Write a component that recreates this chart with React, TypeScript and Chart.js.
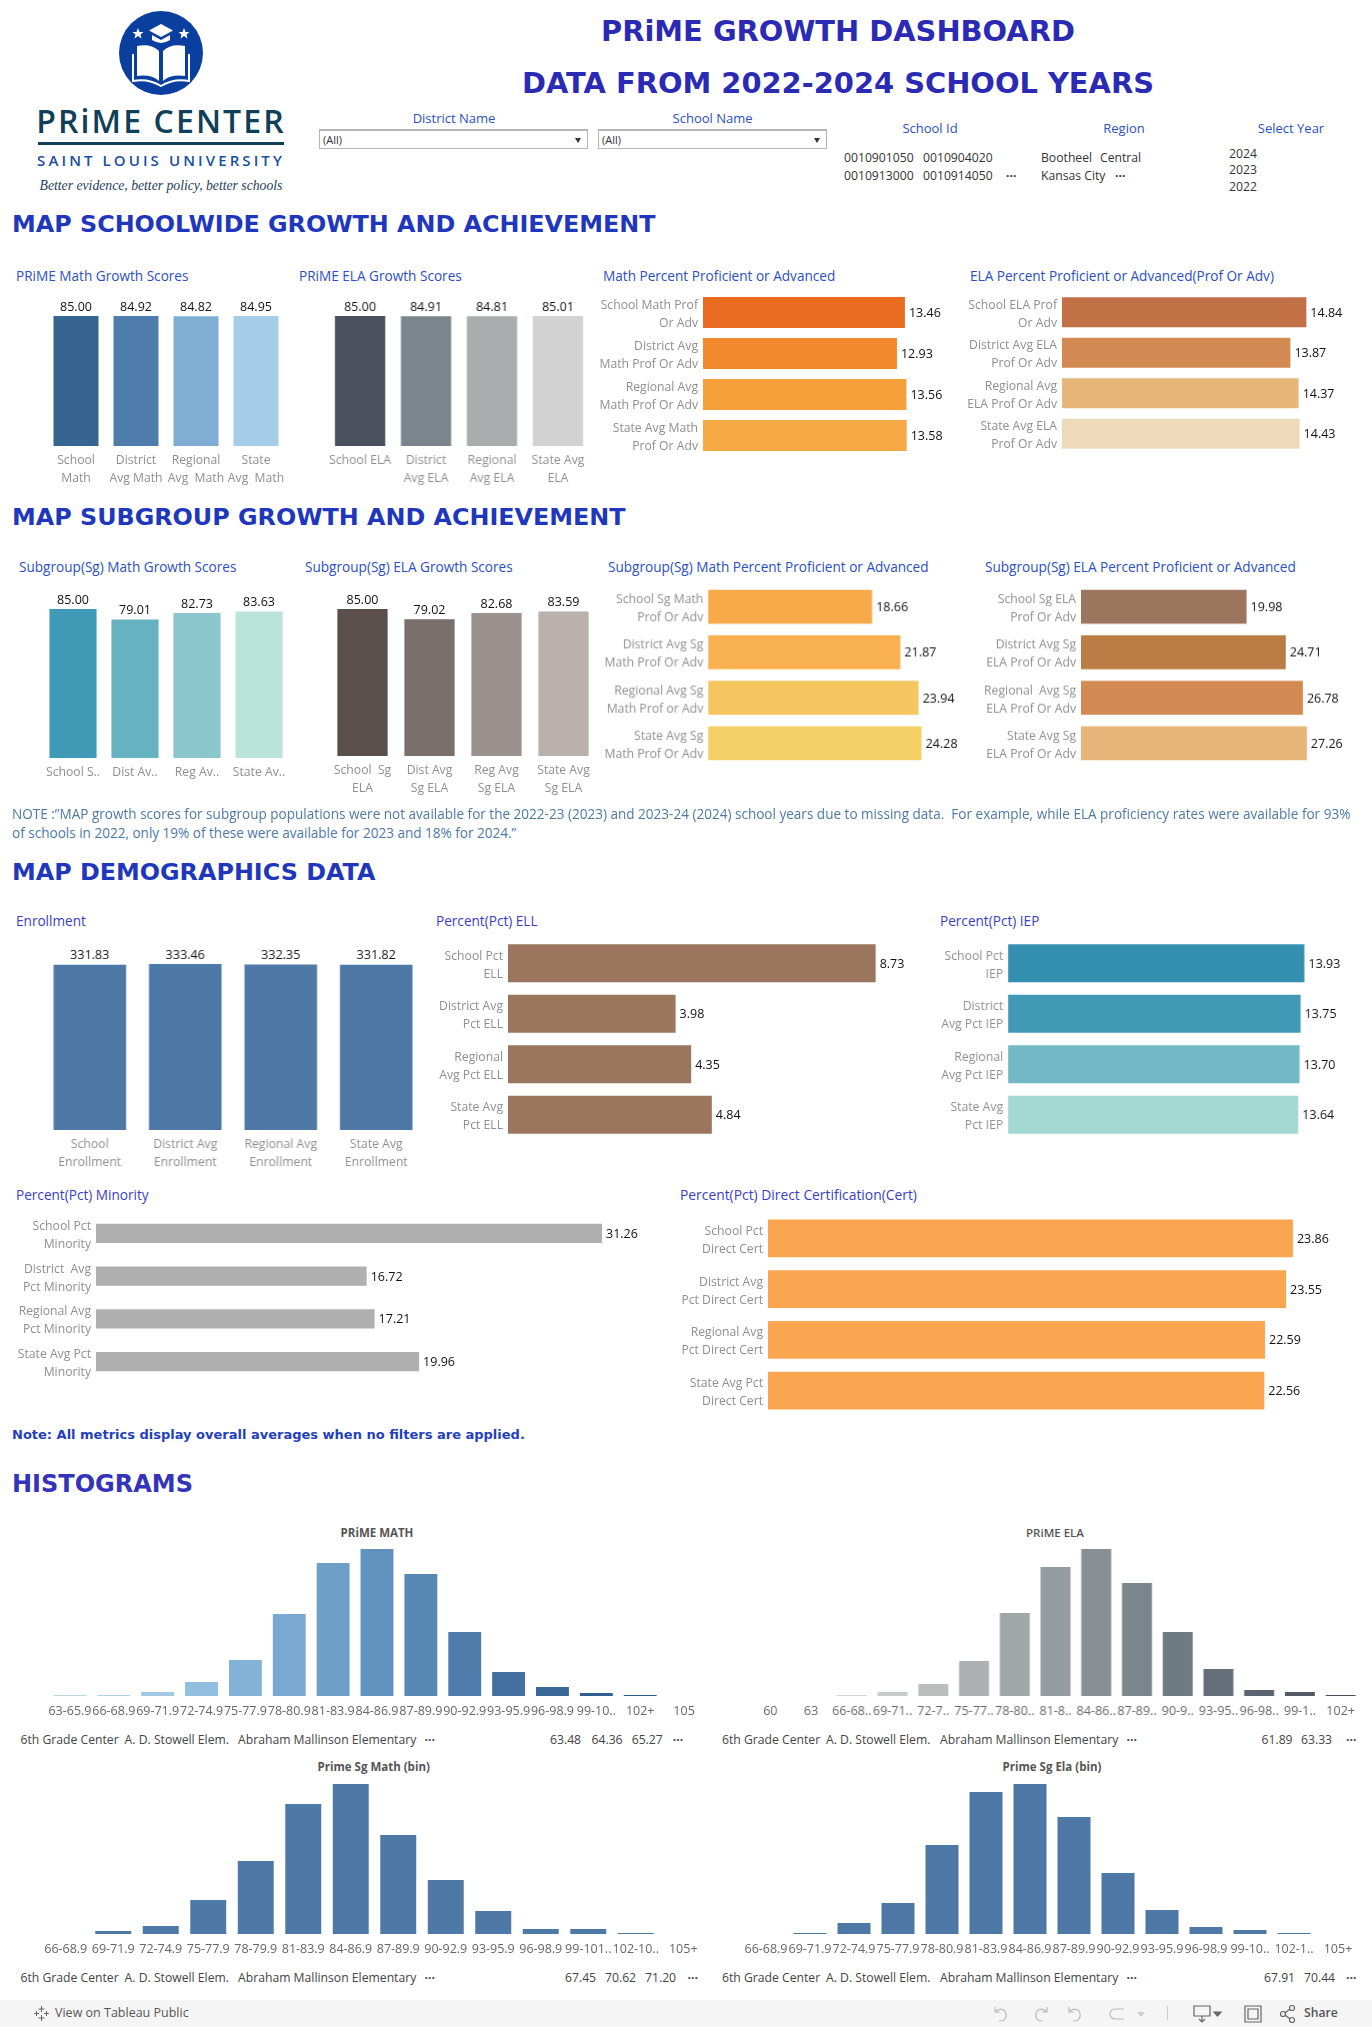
import React, { useEffect, useRef } from "react";
import { Chart, registerables } from "chart.js";

Chart.register(...registerables);

const FONT = '"Open Sans", sans-serif';
const HEAD = '"DejaVu Sans", sans-serif';

// ---- data ----
const mathGrowthLabels = [["School", "Math"], ["District", "Avg Math"], ["Regional", "Avg  Math"], ["State", "Avg  Math"]];
const mathGrowthValues = [85.0, 84.92, 84.82, 84.95];
const elaGrowthLabels = [["School ELA"], ["District", "Avg ELA"], ["Regional", "Avg ELA"], ["State Avg", "ELA"]];
const elaGrowthValues = [85.0, 84.91, 84.81, 85.01];
const mathPctLabels = [["School Math Prof", "Or Adv"], ["District Avg", "Math Prof Or Adv"], ["Regional Avg", "Math Prof Or Adv"], ["State Avg Math", "Prof Or Adv"]];
const mathPctValues = [13.46, 12.93, 13.56, 13.58];
const elaPctLabels = [["School ELA Prof", "Or Adv"], ["District Avg ELA", "Prof Or Adv"], ["Regional Avg", "ELA Prof Or Adv"], ["State Avg ELA", "Prof Or Adv"]];
const elaPctValues = [14.84, 13.87, 14.37, 14.43];

const sgMathGrowthLabels = ["School S..", "Dist Av..", "Reg Av..", "State Av.."];
const sgMathGrowthValues = [85.0, 79.01, 82.73, 83.63];
const sgElaGrowthLabels = [["School  Sg", "ELA"], ["Dist Avg", "Sg ELA"], ["Reg Avg", "Sg ELA"], ["State Avg", "Sg ELA"]];
const sgElaGrowthValues = [85.0, 79.02, 82.68, 83.59];
const sgMathPctLabels = [["School Sg Math", "Prof Or Adv"], ["District Avg Sg", "Math Prof Or Adv"], ["Regional Avg Sg", "Math Prof or Adv"], ["State Avg Sg", "Math Prof Or Adv"]];
const sgMathPctValues = [18.66, 21.87, 23.94, 24.28];
const sgElaPctLabels = [["School Sg ELA", "Prof Or Adv"], ["District Avg Sg", "ELA Prof Or Adv"], ["Regional  Avg Sg", "ELA Prof Or Adv"], ["State Avg Sg", "ELA Prof Or Adv"]];
const sgElaPctValues = [19.98, 24.71, 26.78, 27.26];

const enrollLabels = [["School", "Enrollment"], ["District Avg", "Enrollment"], ["Regional Avg", "Enrollment"], ["State Avg", "Enrollment"]];
const enrollValues = [331.83, 333.46, 332.35, 331.82];
const ellLabels = [["School Pct", "ELL"], ["District Avg", "Pct ELL"], ["Regional", "Avg Pct ELL"], ["State Avg", "Pct ELL"]];
const ellValues = [8.73, 3.98, 4.35, 4.84];
const iepLabels = [["School Pct", "IEP"], ["District", "Avg Pct IEP"], ["Regional", "Avg Pct IEP"], ["State Avg", "Pct IEP"]];
const iepValues = [13.93, 13.75, 13.7, 13.64];
const minorityLabels = [["School Pct", "Minority"], ["District  Avg", "Pct Minority"], ["Regional Avg", "Pct Minority"], ["State Avg Pct", "Minority"]];
const minorityValues = [31.26, 16.72, 17.21, 19.96];
const certLabels = [["School Pct", "Direct Cert"], ["District Avg", "Pct Direct Cert"], ["Regional Avg", "Pct Direct Cert"], ["State Avg Pct", "Direct Cert"]];
const certValues = [23.86, 23.55, 22.59, 22.56];

const histMathBins = ["63-65.9", "66-68.9", "69-71.9", "72-74.9", "75-77.9", "78-80.9", "81-83.9", "84-86.9", "87-89.9", "90-92.9", "93-95.9", "96-98.9", "99-10..", "102+", "105"];
const histMathCounts = [1, 1, 4, 14, 36, 82, 133, 147, 122, 64, 24, 9, 3, 1, 0];
const histElaBins = ["60", "63", "66-68..", "69-71..", "72-7..", "75-77..", "78-80..", "81-8..", "84-86..", "87-89..", "90-9..", "93-95..", "96-98..", "99-1..", "102+"];
const histElaCounts = [0, 0, 1, 4, 12, 35, 83, 129, 147, 113, 64, 27, 6, 4, 1];
const histSgMathBins = ["66-68.9", "69-71.9", "72-74.9", "75-77.9", "78-79.9", "81-83.9", "84-86.9", "87-89.9", "90-92.9", "93-95.9", "96-98.9", "99-101..", "102-10..", "105+"];
const histSgMathCounts = [0, 3, 8, 34, 73, 130, 150, 99, 54, 23, 5, 5, 1, 0];
const histSgElaBins = ["66-68.9", "69-71.9", "72-74.9", "75-77.9", "78-80.9", "81-83.9", "84-86.9", "87-89.9", "90-92.9", "93-95.9", "96-98.9", "99-10..", "102-1..", "105+"];
const histSgElaCounts = [0, 1, 11, 31, 89, 142, 150, 117, 61, 24, 7, 4, 1, 0];

// ---- colours ----
const cMathGrowth = ["#376592", "#4e7cab", "#7fadd3", "#a5cde7"];
const cElaGrowth = ["#4a505c", "#7b868c", "#a9adae", "#d2d2d2"];
const cMathPct = ["#e96b20", "#f28a2d", "#f6a03c", "#f6a845"];
const cElaPct = ["#c27146", "#d28a52", "#e7b678", "#eedabb"];
const cSgMathGrowth = ["#409ab6", "#66b2c0", "#8ac6cb", "#bae4d9"];
const cSgElaGrowth = ["#5a4f4b", "#7a6f6b", "#9b918d", "#bab0ac"];
const cSgMathPct = ["#f8a94a", "#f8b050", "#f5c660", "#f2d066"];
const cSgElaPct = ["#9c755f", "#b97c43", "#d28a52", "#e7b678"];
const cIep = ["#348fb0", "#409ab6", "#72b9c5", "#a3d7d2"];
const cHistMath = ["#b7d7ea", "#aed1e8", "#a1c9e5", "#92bfdf", "#85b3d8", "#79a9d0", "#6d9fc7", "#6191bd", "#5788b4", "#4e7cab", "#44709f", "#396795", "#325f8f", "#2f5a88", "#2f5a88"];
const cHistEla = ["#d3d3d3", "#d3d3d3", "#d3d3d3", "#c9caca", "#bcbebd", "#aeb1b1", "#a1a6a8", "#959da0", "#888f95", "#7b868c", "#6f7b82", "#656e78", "#5b6571", "#525a66", "#4a505c"];

const GRAY = "#8f8f8f";

const valueLabels = {
  id: "valueLabels",
  afterDatasetsDraw(chart: any) {
    const o = chart.options.plugins.valueLabels;
    if (!o || !o.show) return;
    const ctx = chart.ctx;
    const horiz = chart.options.indexAxis === "y";
    ctx.save();
    ctx.fillStyle = "#111";
    ctx.font = `${o.size}px ${FONT}`;
    ctx.textBaseline = "middle";
    ctx.textAlign = horiz ? "left" : "center";
    chart.getDatasetMeta(0).data.forEach((el: any, i: number) => {
      const t = chart.data.datasets[0].data[i].toFixed(2);
      if (horiz) ctx.fillText(t, el.x + 4, el.y + 1);
      else ctx.fillText(t, el.x, el.y - 9);
    });
    ctx.restore();
  },
};

type P = {
  plot: number[]; // left, top, right, bottom of the plotting area on the page
  axis: number; // room for the category axis
  labels: any[];
  values: number[];
  colors: string | string[];
  ratio: number;
  max: number;
  horizontal?: boolean;
  showValues?: boolean;
  tickSize?: number;
  tickColor?: string;
};

function Bars({ plot, axis, labels, values, colors, ratio, max, horizontal, showValues = true, tickSize = 12.2, tickColor = GRAY }: P) {
  const ref = useRef<HTMLCanvasElement>(null);
  const [l, t, r, b] = plot;
  const box = horizontal
    ? { left: l - axis, top: t - 4, width: axis + (r - l) + 70, height: b - t + 8 }
    : { left: l - 24, top: t - 26, width: r - l + 48, height: b - t + 26 + axis };
  useEffect(() => {
    const fit = (s: any) => {
      if (horizontal) s.width = axis;
      else s.height = axis;
      s.paddingTop = 0;
      s.paddingBottom = 0;
      s.paddingLeft = 0;
      s.paddingRight = 0;
    };
    const cat = {
      display: true,
      grid: { display: false, drawTicks: false },
      border: { display: false },
      afterFit: fit,
      ticks: {
        autoSkip: false,
        maxRotation: 0,
        minRotation: 0,
        color: tickColor,
        padding: horizontal ? 5 : 6,
        labelOffset: horizontal ? 2 : 0,
        font: { family: FONT, size: tickSize, lineHeight: 18 / tickSize },
      },
    };
    const val = { display: false, min: 0, max };
    const chart = new Chart(ref.current!, {
      type: "bar",
      data: {
        labels,
        datasets: [{ data: values, backgroundColor: colors, categoryPercentage: 1, barPercentage: ratio }],
      },
      options: {
        animation: false,
        responsive: false,
        indexAxis: horizontal ? "y" : "x",
        layout: {
          padding: horizontal
            ? { left: 0, top: 4, right: 70, bottom: 4 }
            : { left: 24, top: 26, right: 24, bottom: 0 },
        },
        plugins: {
          legend: { display: false },
          tooltip: { enabled: false },
          title: { display: false },
          valueLabels: { show: showValues, size: 12.5 },
        },
        scales: horizontal ? { y: cat, x: val } : { x: cat, y: val },
      } as any,
      plugins: [valueLabels],
    });
    return () => chart.destroy();
  }, []);
  return <canvas ref={ref} width={box.width} height={box.height} style={{ position: "absolute", left: box.left, top: box.top, width: box.width, height: box.height }} />;
}

function T({ x, y, children, size = 12.2, color = "#333", align = "left", family = FONT, weight = 400, style = {} }: any) {
  const tx = align === "center" ? "-50%" : align === "right" ? "-100%" : "0";
  return (
    <div style={{ position: "absolute", left: x, top: y, transform: `translate(${tx},-50%)`, whiteSpace: "pre", fontSize: size, color, fontFamily: family, fontWeight: weight, lineHeight: 1, ...style }}>
      {children}
    </div>
  );
}

const TITLE1 = "#2b4fc4";
const TITLE2 = "#3a3ec6";
const HCOL = "#1f37bd";
const TS = 13.6;
const ELL = "\u00b7\u00b7\u00b7";

function Logo() {
  return (
    <svg style={{ position: "absolute", left: 119, top: 11 }} width={84} height={84} viewBox="0 0 84 84">
      <circle cx={42} cy={42} r={42} fill="#0b3f9f" />
      <polygon points="42,13 54,19.5 42,26 30,19.5" fill="#fff" />
      <path d="M33 24 v5 q9 6 18 0 v-5 l-9 5z" fill="#fff" />
      <polygon points="19,17 20.5,21 24.5,21 21.5,23.5 22.5,27.5 19,25 15.5,27.5 16.5,23.5 13.5,21 17.5,21" fill="#fff" />
      <polygon points="65,17 66.5,21 70.5,21 67.5,23.5 68.5,27.5 65,25 61.5,27.5 62.5,23.5 59.5,21 63.5,21" fill="#fff" />
      <path d="M18 35 q14 -3 22 5 v30 q-8 -7 -22 -5z" fill="#fff" />
      <path d="M66 35 q-14 -3 -22 5 v30 q8 -7 22 -5z" fill="#fff" />
      <path d="M14 43 v27 q15 -3 28 5 q13 -8 28 -5 v-27" fill="none" stroke="#fff" strokeWidth={2} />
    </svg>
  );
}

function FilterRow({ y, names, nums }: { y: number; names: number[]; nums: [string, number][] }) {
  const nameTexts = ["6th Grade Center", "A. D. Stowell Elem.", "Abraham Mallinson Elementary", ELL];
  return (
    <>
      {nameTexts.map((s, i) => (
        <T key={i} x={names[i]} y={y} color="#444" weight={s === ELL ? 700 : 400}>{s}</T>
      ))}
      {nums.map(([s, x], i) => (
        <T key={"n" + i} x={x} y={y} color="#444" weight={s === ELL ? 700 : 400}>{s}</T>
      ))}
    </>
  );
}

function Dropdown({ l, r }: { l: number; r: number }) {
  return (
    <div style={{ position: "absolute", left: l, top: 129, width: r - l - 2, height: 17, border: "1px solid #b4b4b4", borderTopWidth: 2 }}>
      <T x={3} y={8} size={11} color="#333">(All)</T>
      <div style={{ position: "absolute", right: 6, top: 7, width: 0, height: 0, borderLeft: "3px solid transparent", borderRight: "3px solid transparent", borderTop: "5px solid #333" }} />
    </div>
  );
}

export default function App() {
  return (
    <div style={{ position: "absolute", left: 0, top: 0, width: 1372, height: 2027, background: "#fff", overflow: "hidden" }}>
      <Logo />
      <T x={161} y={121} size={32} color="#0f4058" align="center" weight={600} style={{ letterSpacing: 2.1 }}>PRiME CENTER</T>
      <div style={{ position: "absolute", left: 38, top: 142, width: 246, height: 3, background: "#0f4058" }} />
      <T x={161} y={160} size={15} color="#1a4fa0" align="center" weight={600} style={{ letterSpacing: 3.1 }}>SAINT LOUIS UNIVERSITY</T>
      <T x={161} y={186} size={13.7} color="#1e4060" align="center" family={'"Liberation Serif", serif'} style={{ fontStyle: "italic" }}>Better evidence, better policy, better schools</T>

      <T x={838} y={31} size={28.9} color="#2a2ab5" align="center" family={HEAD} weight={700}>PRiME GROWTH DASHBOARD</T>
      <T x={838} y={83} size={28.9} color="#2a2ab5" align="center" family={HEAD} weight={700}>DATA FROM 2022-2024 SCHOOL YEARS</T>

      <T x={454} y={117.5} size={13} color={TITLE1} align="center">District Name</T>
      <T x={712.6} y={117.5} size={13} color={TITLE1} align="center">School Name</T>
      <Dropdown l={319} r={588} />
      <Dropdown l={598} r={827} />
      <T x={930} y={127.5} size={13} color={TITLE1} align="center">School Id</T>
      <T x={1124} y={127.5} size={13} color={TITLE1} align="center">Region</T>
      <T x={1291} y={127.5} size={13} color={TITLE1} align="center">Select Year</T>
      <T x={844} y={158}>0010901050</T>
      <T x={923} y={158}>0010904020</T>
      <T x={844} y={176}>0010913000</T>
      <T x={923} y={176}>0010914050</T>
      <T x={1006} y={176} weight={700}>{ELL}</T>
      <T x={1041} y={158}>Bootheel</T>
      <T x={1100} y={158}>Central</T>
      <T x={1041} y={176}>Kansas City</T>
      <T x={1115} y={176} weight={700}>{ELL}</T>
      <T x={1229} y={154}>2024</T>
      <T x={1229} y={170}>2023</T>
      <T x={1229} y={187}>2022</T>

      <T x={12} y={225} size={23.85} color={HCOL} family={HEAD} weight={700}>MAP SCHOOLWIDE GROWTH AND ACHIEVEMENT</T>

      <T x={16} y={275.5} size={TS} color={TITLE1}>PRiME Math Growth Scores</T>
      <T x={299} y={275.5} size={TS} color={TITLE1}>PRiME ELA Growth Scores</T>
      <T x={603} y={275.5} size={TS} color={TITLE1}>Math Percent Proficient or Advanced</T>
      <T x={970} y={275.5} size={TS} color={TITLE1}>ELA Percent Proficient or Advanced(Prof Or Adv)</T>
      <Bars plot={[46.3, 316, 286.5, 446]} axis={50} labels={mathGrowthLabels} values={mathGrowthValues} colors={cMathGrowth} ratio={0.75} max={85} />
      <Bars plot={[327.2, 316, 590.9, 446]} axis={50} labels={elaGrowthLabels} values={elaGrowthValues} colors={cElaGrowth} ratio={0.762} max={85} />
      <Bars horizontal plot={[703, 292, 913.2, 456]} axis={110} labels={mathPctLabels} values={mathPctValues} colors={cMathPct} ratio={0.756} max={14} />
      <Bars horizontal plot={[1061.8, 292, 1309.3, 454]} axis={110} labels={elaPctLabels} values={elaPctValues} colors={cElaPct} ratio={0.74} max={15} />

      <T x={12} y={518} size={23.85} color={HCOL} family={HEAD} weight={700}>MAP SUBGROUP GROWTH AND ACHIEVEMENT</T>

      <T x={19} y={567} size={TS} color={TITLE1}>Subgroup(Sg) Math Growth Scores</T>
      <T x={305} y={567} size={TS} color={TITLE1}>Subgroup(Sg) ELA Growth Scores</T>
      <T x={608} y={567} size={TS} color={TITLE1}>Subgroup(Sg) Math Percent Proficient or Advanced</T>
      <T x={985} y={567} size={TS} color={TITLE1}>Subgroup(Sg) ELA Percent Proficient or Advanced</T>
      <Bars plot={[42.4, 609, 290.5, 758]} axis={30} labels={sgMathGrowthLabels} values={sgMathGrowthValues} colors={cSgMathGrowth} ratio={0.76} max={85} />
      <Bars plot={[328.5, 609, 596.5, 756]} axis={50} labels={sgElaGrowthLabels} values={sgElaGrowthValues} colors={cSgElaGrowth} ratio={0.75} max={85} />
      <Bars horizontal plot={[707.9, 584.4, 927.6, 765.6]} axis={110} labels={sgMathPctLabels} values={sgMathPctValues} colors={cSgMathPct} ratio={0.75} max={25} />
      <Bars horizontal plot={[1081, 584.4, 1313.4, 765.6]} axis={110} labels={sgElaPctLabels} values={sgElaPctValues} colors={cSgElaPct} ratio={0.75} max={28} />

      <T x={12} y={814.5} size={13.55} color="#4e79a7">{"NOTE :\u201dMAP growth scores for subgroup populations were not available for the 2022-23 (2023) and 2023-24 (2024) school years due to missing data.  For example, while ELA proficiency rates were available for 93%"}</T>
      <T x={12} y={833.5} size={13.55} color="#4e79a7">{"of schools in 2022, only 19% of these were available for 2023 and 18% for 2024.\u201d"}</T>

      <T x={12} y={873} size={23.85} color={HCOL} family={HEAD} weight={700}>MAP DEMOGRAPHICS DATA</T>

      <T x={16} y={921} size={TS} color={TITLE2}>Enrollment</T>
      <T x={436} y={921} size={TS} color={TITLE2}>Percent(Pct) ELL</T>
      <T x={940} y={921} size={TS} color={TITLE2}>Percent(Pct) IEP</T>
      <Bars plot={[42, 964, 423.6, 1130]} axis={50} labels={enrollLabels} values={enrollValues} colors="#4e79a7" ratio={0.76} max={333.46} />
      <Bars horizontal plot={[507.9, 938, 887.3, 1140]} axis={80} labels={ellLabels} values={ellValues} colors="#9c755f" ratio={0.75} max={9} />
      <Bars horizontal plot={[1008, 938, 1305.5, 1140]} axis={80} labels={iepLabels} values={iepValues} colors={cIep} ratio={0.75} max={14} />

      <T x={16} y={1195} size={TS} color={TITLE2}>Percent(Pct) Minority</T>
      <T x={680} y={1195} size={13.85} color={TITLE2}>Percent(Pct) Direct Certification(Cert)</T>
      <Bars horizontal plot={[95.8, 1212, 613.9, 1383]} axis={90} labels={minorityLabels} values={minorityValues} colors="#b0b0b0" ratio={0.445} max={32} />
      <Bars horizontal plot={[768, 1213, 1296, 1416]} axis={100} labels={certLabels} values={certValues} colors="#faa550" ratio={0.745} max={24} />

      <T x={12} y={1434} size={13} color="#1f3fc0" family={HEAD} weight={700}>Note: All metrics display overall averages when no filters are applied.</T>

      <T x={12} y={1484} size={24} color="#3333bb" family={HEAD} weight={700}>HISTOGRAMS</T>

      <T x={377} y={1533} size={11.5} color="#555" align="center" weight={700}>PRiME MATH</T>
      <T x={1055} y={1533} size={11.5} color="#555" align="center" weight={600}>PRiME ELA</T>
      <Bars plot={[47.7, 1549, 706, 1696]} axis={30} labels={histMathBins} values={histMathCounts} colors={cHistMath} ratio={0.75} max={147} showValues={false} tickColor="#666" tickSize={12.5} />
      <Bars plot={[750, 1549, 1360.5, 1696]} axis={30} labels={histElaBins} values={histElaCounts} colors={cHistEla} ratio={0.735} max={147} showValues={false} tickColor="#666" tickSize={12.5} />
      <FilterRow y={1740} names={[20.5, 124.6, 238, 424.6]} nums={[["63.48", 550], ["64.36", 591.5], ["65.27", 631.7], [ELL, 672.8]]} />
      <FilterRow y={1739.5} names={[722, 826, 940, 1126.5]} nums={[["61.89", 1261.5], ["63.33", 1301], [ELL, 1346]]} />

      <T x={373.7} y={1767} size={11.5} color="#555" align="center" weight={700}>Prime Sg Math (bin)</T>
      <T x={1052} y={1767} size={11.5} color="#555" align="center" weight={700}>Prime Sg Ela (bin)</T>
      <Bars plot={[41.7, 1784, 706.7, 1934]} axis={30} labels={histSgMathBins} values={histSgMathCounts} colors="#4e79a7" ratio={0.757} max={150} showValues={false} tickColor="#666" tickSize={12.5} />
      <Bars plot={[744.4, 1784, 1360.4, 1934]} axis={30} labels={histSgElaBins} values={histSgElaCounts} colors="#4e79a7" ratio={0.75} max={150} showValues={false} tickColor="#666" tickSize={12.5} />
      <FilterRow y={1978} names={[20.5, 124.6, 238, 424.6]} nums={[["67.45", 565], ["70.62", 605], ["71.20", 645], [ELL, 687.5]]} />
      <FilterRow y={1978} names={[722, 826, 940, 1126.5]} nums={[["67.91", 1264], ["70.44", 1304], [ELL, 1346]]} />

      <div style={{ position: "absolute", left: 0, top: 2000, width: 1372, height: 27, background: "#f5f5f5" }} />
      <svg style={{ position: "absolute", left: 33, top: 2005 }} width={17} height={17} viewBox="0 0 17 17" stroke="#666" strokeWidth={1} fill="none">
        <path d="M8.5 1v6M5.5 4h6M8.5 10v6M5.5 13h6M3.5 6v5M1 8.5h5M13.5 6v5M11 8.5h5" />
      </svg>
      <T x={55} y={2013} size={12.5} color="#555">View on Tableau Public</T>
      <svg style={{ position: "absolute", left: 985, top: 2003 }} width={150} height={22} viewBox="0 0 150 22" stroke="#bbb" strokeWidth={1.2} fill="none">
        <path transform="translate(4,0)" d="M6 4 v5 h5 M6 9 q5 -5 10 -1 q3 5 -1 9 q-2 1 -5 1" />
        <path transform="translate(16,0)" d="M46 4 v5 h-5 M46 9 q-5 -5 -10 -1 q-3 5 1 9 q2 1 5 1" />
        <path transform="translate(8,0)" d="M76 4 v5 h5 M76 9 q5 -5 10 -1 q3 5 -1 9 q-2 1 -5 1" />
        <path transform="translate(19,0)" d="M120 6 h-8 q-6 0 -6 5 q0 5 6 5 h8" />
      </svg>
      <div style={{ position: "absolute", left: 1137, top: 2012, width: 0, height: 0, borderLeft: "4px solid transparent", borderRight: "4px solid transparent", borderTop: "5px solid #ccc" }} />
      <div style={{ position: "absolute", left: 1167, top: 2006, width: 1, height: 14, background: "#ccc" }} />
      <svg style={{ position: "absolute", left: 1192, top: 2004 }} width={180} height={20} viewBox="0 0 180 20" stroke="#666" strokeWidth={1.2} fill="none">
        <path d="M2 2 h16 v10 h-16z M10 12 v6 M7 15 l3 3 l3 -3" />
        <path d="M22 8 h7 l-3.5 4z" fill="#666" />
        <path d="M53 2 h16 v16 h-16z M56 5 h10 v10 h-10z" />
        <circle cx={91} cy={10} r={2.5} />
        <circle cx={100} cy={4} r={2.5} />
        <circle cx={100} cy={16} r={2.5} />
        <path d="M93 9 l5 -4 M93 11 l5 4" />
      </svg>
      <T x={1304} y={2013} color="#555" weight={600}>Share</T>
    </div>
  );
}
